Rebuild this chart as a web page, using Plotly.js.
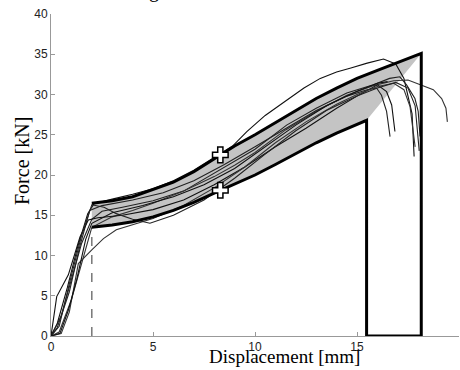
<!DOCTYPE html>
<html><head><meta charset="utf-8">
<script src="https://cdn.plot.ly/plotly-3.0.1.min.js"></script>
<style>html,body{margin:0;padding:0;background:#fff}#chart{width:460px;height:370px}</style>
</head><body><div id="chart"></div>
<script>
// Upper / lower bound curves
var upperX = [2, 3, 4, 5, 6, 7, 8.3, 9, 10, 11, 12, 13, 14, 15, 16, 17, 18.15];
var upperY = [16.5, 16.8, 17.3, 18.2, 19.1, 20.4, 22.5, 23.6, 25.0, 26.5, 28.1, 29.5, 30.8, 32.0, 33.0, 34.0, 35.1];
var lowerX = [2, 3, 4, 5, 6, 7, 8.3, 9, 10, 11, 12, 13, 14, 15.47];
var lowerY = [13.5, 13.8, 14.2, 14.8, 15.6, 16.6, 18.1, 18.9, 20.0, 21.3, 22.7, 24.0, 25.2, 26.8];
// Marked points
var markX = [8.3, 8.3];
var markY = [22.5, 18.1];
// Dashed reference line
var dashX = [2, 2];
var dashY = [0, 13.5];
// Experimental curves
var c1x = [0,0.3,0.8,1.3,1.8,2.1,3,4,5,6,7,8,8.9,9.6,10.5,11.5,12.4,13.2,14.0,14.7,15.5,16.3,16.9,17.3,17.5,17.7,17.8];
var c1y = [0,1.5,6,11,15.2,16.4,17.0,17.6,18.3,19.3,20.6,22.2,23.6,25.4,27.4,29.2,30.8,32.0,32.8,33.3,33.9,34.4,33.8,32.0,29.9,27.6,22.3];
var c2x = [0,0.5,1.0,1.5,2.0,2.5,3.5,5,6.5,8,8.9,10,11.55,13,14.5,15.8,16.6,17.1,17.43,17.84,18.0,18.09];
var c2y = [0,2.5,7,11.5,14.5,15.5,16.0,16.8,18.0,20.2,21.5,23.2,26.2,28.3,30.2,31.2,32.0,32.2,31.2,29.5,27.9,24.8];
var c3x = [0,0.4,1.0,1.6,2.0,3,4,5,6.5,8,9,10,11.5,13,14.5,15.8,16.8,17.5,18.09,18.74,19.15,19.36,19.43];
var c3y = [0,0.5,4.5,10,13.5,14.8,15.6,16.5,18.0,19.8,21.2,22.8,25.6,27.9,29.9,31.1,31.7,31.8,31.2,30.6,29.5,28.3,26.6];
var c4x = [0,0.3,0.9,1.4,1.9,2.5,4,5.5,7,8.5,10,11.5,13,14.5,15.5,15.96,16.2,16.45,16.62];
var c4y = [0,1,5.5,11,15.6,16.2,16.9,17.8,19.3,21.3,23.5,25.8,28.0,29.8,30.6,30.8,29.9,27.9,24.76];
var c5x = [0,0.28,0.85,1.42,1.83,2.3,3.5,5,6.5,8,9.5,11,12.5,14,15,16.0,16.45,16.7,16.86];
var c5y = [0,4.9,7.6,12.3,14.4,14.7,15.0,15.7,16.9,18.8,21.0,23.5,25.8,28.3,29.8,31.2,30.35,28.7,25.4];
var c6x = [0,0.5,0.9,1.34,2.0,2.57,3.2,4,5,6.5,8,9.5,11,12.5,14,15,16,16.8,17.3,17.6,17.85];
var c6y = [0,0.3,3,9.0,10.7,12.1,13.2,13.8,14.6,16.2,18.4,21.0,24.0,26.6,28.8,30.0,31.0,31.4,30.6,28.5,23.5];
var c7x = [0,0.4,0.9,1.5,2.0,2.6,3.2,4.0,4.85,6,7.5,9,10.5,12,13.5,15,16,16.9,17.5,17.85,18.05];
var c7y = [0,1.2,6.5,12.5,16.3,16.0,15.2,14.5,14.0,15.0,16.9,19.6,22.6,25.5,28.0,29.8,30.8,31.5,30.8,28.6,23.0];
var c8x = [0,0.44,0.85,1.26,1.7,2.0,3.0,4.5,6,7.5,9,10.5,12,13.5,15,16,16.5];
var c8y = [0,0.33,3.2,7.0,12,14,15.3,16.2,17.3,18.8,20.8,23.5,26.2,28.6,30.4,31.4,31.6];

var curves = [[c1x,c1y,'#111'],[c2x,c2y,'#222'],[c3x,c3y,'#333'],[c4x,c4y,'#222'],
              [c5x,c5y,'#111'],[c6x,c6y,'#333'],[c7x,c7y,'#222'],[c8x,c8y,'#111']];

var traces = [];
// grey band
traces.push({x: upperX.concat(lowerX.slice().reverse()), y: upperY.concat(lowerY.slice().reverse()),
  mode:'lines', fill:'toself', fillcolor:'#c4c4c4', line:{width:0, color:'#c4c4c4'}, hoverinfo:'skip'});
curves.forEach(function(c){
  traces.push({x:c[0], y:c[1], mode:'lines', line:{color:c[2], width:1.1}});
});
traces.push({x:dashX, y:dashY, mode:'lines', line:{color:'#777', width:1.5, dash:'dash'}});
var ue = upperX.length-1, le = lowerX.length-1;
traces.push({x: upperX.concat([upperX[ue]]), y: upperY.concat([0]), mode:'lines', line:{color:'#000', width:3}});
traces.push({x: lowerX.concat([lowerX[le]]), y: lowerY.concat([0]), mode:'lines', line:{color:'#000', width:3}});
traces.push({x: [lowerX[le], upperX[ue]], y: [0, 0], mode:'lines', line:{color:'#000', width:3}});
traces.push({x: markX, y: markY, mode:'markers',
  marker:{symbol:'cross', size:13, color:'#fff', line:{color:'#000', width:1.5}}});

var axisCommon = {showgrid:false, zeroline:false, showline:true, linecolor:'#999', linewidth:1,
  ticks:'inside', ticklen:4, tickcolor:'#999', tickfont:{family:'Liberation Sans, Arial', size:12, color:'#222'}};

var layout = {
  width:460, height:370, showlegend:false,
  margin:{l:51, r:1, t:14, b:34},
  paper_bgcolor:'#fff', plot_bgcolor:'#fff',
  xaxis: Object.assign({range:[0,20], tickvals:[0,5,10,15,20]}, axisCommon),
  yaxis: Object.assign({range:[0,40], tickvals:[0,5,10,15,20,25,30,35,40]}, axisCommon),
  annotations:[
    {text:'Displacement [mm]', xref:'paper', yref:'paper', x:(284-51)/408, y:-(369-336)/322,
     xanchor:'center', yanchor:'bottom', showarrow:false,
     font:{family:'Liberation Serif, Times New Roman', size:19, color:'#000'}},
    {text:'Force [kN]', xref:'paper', yref:'paper', x:-(51-22)/408, y:(336-161)/322,
     xanchor:'center', yanchor:'middle', textangle:-90, showarrow:false,
     font:{family:'Liberation Serif, Times New Roman', size:20, color:'#000'}},
    {text:'g', xref:'paper', yref:'paper', x:(154-51)/408, y:1+(10)/322,
     xanchor:'center', yanchor:'bottom', showarrow:false,
     font:{family:'Liberation Serif, Times New Roman', size:20, color:'#000'}}
  ]
};
Plotly.newPlot('chart', traces, layout, {displayModeBar:false, staticPlot:true});
</script></body></html>
